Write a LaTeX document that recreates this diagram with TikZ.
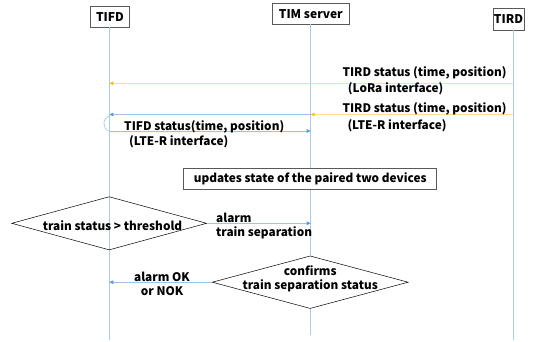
\documentclass[tikz,border=0pt]{standalone}
\usepackage{fontspec}
\setmainfont{Noto Sans CJK KR}
\usetikzlibrary{arrows.meta,shapes.geometric}
\definecolor{life}{HTML}{A9CBEA}
\definecolor{msg}{HTML}{5B9BD5}
\definecolor{msgl}{HTML}{9DC3E6}
\definecolor{yel}{HTML}{FFC000}
\definecolor{yell}{HTML}{FFE08A}
\definecolor{boxg}{HTML}{595959}
\begin{document}
\begin{tikzpicture}[x=1pt,y=-1pt,
  every node/.style={font=\fontsize{11.8}{14}\selectfont\bfseries, inner sep=0pt},
  actor/.style={draw=boxg, line width=0.6pt, fill=white, inner sep=0pt, font=\fontsize{12}{14}\selectfont\bfseries},
  lifeline/.style={draw=life, line width=0.6pt},
  bluemsg/.style={draw=msgl, line width=0.6pt, -{Triangle[length=4pt,width=3.5pt,fill=msg,color=msg]}},
  yelmsg/.style={draw=yell, line width=0.6pt, -{Triangle[length=4pt,width=3.5pt,fill=yel,color=yel]}},
  lbl/.style={align=left, anchor=west},
  dec/.style={draw=black, line width=0.5pt}]
\useasboundingbox (0,0) rectangle (533,341);
% actors
\node[actor, minimum width=38.6pt, minimum height=21.3pt] (tifd) at (110,16.7) {TIFD};
\node[actor, minimum width=77pt, minimum height=21.3pt] (tim) at (310.8,13.7) {TIM server};
\node[actor, minimum width=31pt, minimum height=22pt] (tird) at (508.5,19) {TIRD};
% lifeline ends
\coordinate (tifdT) at (109.3,27.3);
\coordinate (timT) at (310.7,24.3);
\coordinate (tirdT) at (513.3,30);
\coordinate (tifdE) at (109.3,339.7);
\coordinate (timE) at (310.7,335);
\coordinate (tirdE) at (513.3,339.7);
\draw[lifeline] (tifdT) -- (tifdE);
\draw[lifeline] (timT) -- (timE);
\draw[lifeline] (tirdT) -- (tirdE);
% message points
\coordinate (a1s) at (513.3,83.3);
\coordinate (a1e) at (109.3,83.3);
\coordinate (a2s) at (513.3,114.5);
\coordinate (a2m) at (310.7,114.5);
\coordinate (a2e) at (109.3,114.5);
\coordinate (a3s) at (109.3,131);
\coordinate (a3e) at (310.7,131);
\draw[yelmsg] (a1s) -- (a1e);
\draw[yelmsg] (a2s) -- (a2m);
\draw[bluemsg] (a2m) -- (a2e);
\draw[draw=msgl, line width=0.6pt] (110,116) .. controls (102,118) and (102,129) .. (a3s);
\draw[bluemsg] (a3s) -- (a3e);
% labels
\node[anchor=east] (l1) at (506.7,72.5) {TIRD status (time, position)};
\node[lbl] (l1b) at (347.7,88.5) {(LoRa interface)};
\node[anchor=east] (l2) at (506.7,108.5) {TIRD status (time, position)};
\node[lbl] (l2b) at (347.3,125.5) {(LTE-R interface)};
\node[lbl] (l3) at (124,126.5) {TIFD status(time, position)};
\node[lbl] (l3b) at (129,142) {(LTE-R interface)};
% update box
\node[draw=boxg, line width=0.6pt, fill=white, minimum width=253pt, minimum height=21pt] (upd) at (310.2,178.8) {updates state of the paired two devices};
% decisions
\node[dec, diamond, aspect=3.66, minimum width=195pt, minimum height=53.3pt, inner sep=0pt] (d1) at (109.2,223.3) {};
\node[anchor=west] (d1t) at (42.7,225.5) {train status > threshold};
\node[dec, fill=white, diamond, aspect=3.73, minimum width=196pt, minimum height=52.6pt, inner sep=0pt] (d2) at (310.2,282.2) {};
\node[align=center] (d2t) at (310.2,278.5) {confirms\\train separation status};
\draw[bluemsg] (d1.east) -- (d1.east -| a3e);
\node[lbl] (l4) at (216,217.5) {alarm};
\node[lbl] (l4b) at (216,232.5) {train separation};
\draw[bluemsg] (d2.west) -- (d2.west -| a1e);
\node[align=center] (l5) at (162,283.5) {alarm OK\\or NOK};
\end{tikzpicture}
\end{document}
